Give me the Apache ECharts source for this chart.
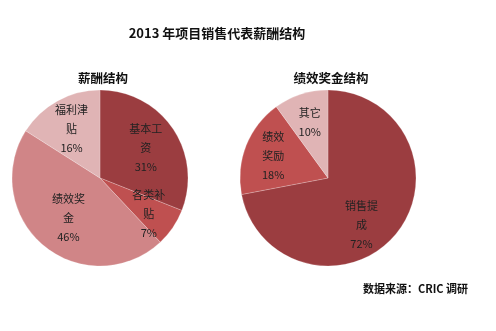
<!DOCTYPE html>
<html>
<head>
<meta charset="utf-8">
<script src="https://cdn.jsdelivr.net/npm/echarts@6/dist/echarts.min.js"></script>
<style>
html,body{margin:0;padding:0;background:#fff;}
#c{width:496px;height:331px;}
</style>
</head>
<body>
<div id="c"></div>
<script>
// Data
var salaryCategories = ['基本工资', '各类补贴', '绩效奖金', '福利津贴'];
var salaryLabels = ['基本工\n资', '各类补\n贴', '绩效奖\n金', '福利津\n贴'];
var salaryValues = [31, 7, 46, 16];

var bonusCategories = ['销售提成', '绩效奖励', '其它'];
var bonusLabels = ['销售提\n成', '绩效\n奖励', '其它'];
var bonusValues = [72, 18, 10];

var mainTitle = '2013 年项目销售代表薪酬结构';
var leftTitle = '薪酬结构';
var rightTitle = '绩效奖金结构';
var sourceText = '数据来源：CRIC 调研';

var salaryColors = ['#9b3d40', '#bf5050', '#d08587', '#e0b4b5'];
var bonusColors = ['#9b3d40', '#bf5050', '#e0b4b5'];

var FONT = '"Noto Sans CJK SC", "Noto Sans", sans-serif';

function buildData(cats, labels, vals, colors) {
  return cats.map(function (c, i) {
    return { name: c, value: vals[i], lbl: labels[i], itemStyle: { color: colors[i] } };
  });
}
function buildLabelData(cats, labels, vals) {
  return cats.map(function (c, i) {
    return { name: c, value: vals[i], lbl: labels[i] };
  });
}

var labelStyle = {
  show: true,
  position: 'inside',
  fontFamily: FONT,
  fontSize: 11,
  lineHeight: 19,
  color: '#222',
  align: 'center',
  formatter: function (p) { return p.data.lbl + '\n' + p.value + '%'; }
};

function pieSeries(center, data) {
  return {
    type: 'pie',
    center: center,
    radius: [0, 88],
    startAngle: 90,
    clockwise: true,
    silent: true,
    animation: false,
    label: { show: false },
    labelLine: { show: false },
    itemStyle: { borderColor: 'rgba(255,255,255,0.35)', borderWidth: 0.6 },
    data: data
  };
}
function labelSeries(center, data, layout) {
  return {
    type: 'pie',
    center: center,
    radius: [24, 88],
    startAngle: 90,
    clockwise: true,
    silent: true,
    animation: false,
    z: 5,
    itemStyle: { color: 'rgba(0,0,0,0)', borderWidth: 0 },
    label: labelStyle,
    labelLine: { show: false },
    labelLayout: layout,
    data: data
  };
}

var chart = echarts.init(document.getElementById('c'), null, { renderer: 'canvas' });
chart.setOption({
  backgroundColor: '#fff',
  animation: false,
  title: [
    { text: mainTitle, left: 212, top: 22, textAlign: 'center',
      textStyle: { fontFamily: FONT, fontSize: 13, fontWeight: 'bold', color: '#111' } },
    { text: leftTitle, left: 98, top: 67, textAlign: 'center',
      textStyle: { fontFamily: FONT, fontSize: 12.5, fontWeight: 'bold', color: '#111' } },
    { text: rightTitle, left: 326, top: 67, textAlign: 'center',
      textStyle: { fontFamily: FONT, fontSize: 12.5, fontWeight: 'bold', color: '#111' } },
    { text: sourceText, left: 463, top: 278, textAlign: 'right',
      textStyle: { fontFamily: FONT, fontSize: 11, fontWeight: 'bold', color: '#111' } }
  ],
  series: [
    pieSeries([100, 178], buildData(salaryCategories, salaryLabels, salaryValues, salaryColors)),
    pieSeries([328, 178], buildData(bonusCategories, bonusLabels, bonusValues, bonusColors)),
    labelSeries([100, 178], buildLabelData(salaryCategories, salaryLabels, salaryValues), function (p) {
      if (p.dataIndex === 0) return { dx: -3, dy: 3 };
      if (p.dataIndex === 1) return { dy: 3 };
      if (p.dataIndex === 2) return { dx: 6, dy: -6 };
      if (p.dataIndex === 3) return { dy: 3 };
      return {};
    }),
    labelSeries([328, 178], buildLabelData(bonusCategories, bonusLabels, bonusValues), function (p) {
      if (p.dataIndex === 0) return { dx: -12, dy: 9 };
      return {};
    })
  ]
});
</script>
</body>
</html>
